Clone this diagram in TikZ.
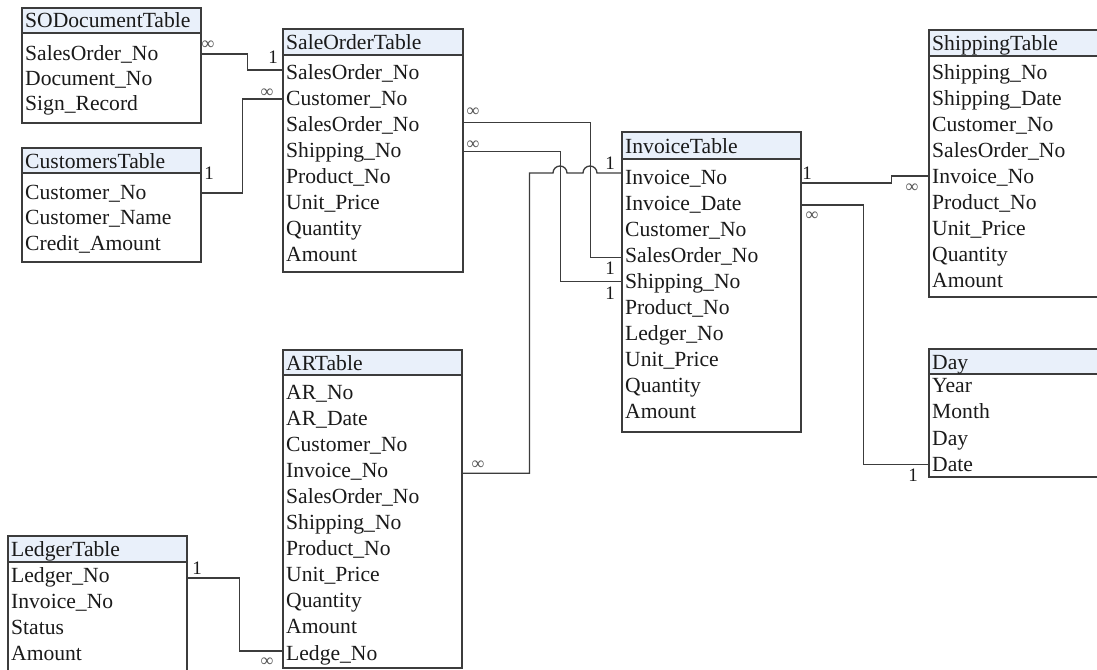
\documentclass[tikz,border=0pt]{standalone}
\usepackage{fontspec}
\setmainfont{Liberation Serif}
\definecolor{hdrblue}{HTML}{E9F0FA}
\definecolor{linegray}{HTML}{3C3C3C}
\definecolor{txt}{HTML}{1A1A1A}
\definecolor{infgray}{HTML}{555555}
\tikzset{
  tabline/.style={draw=linegray, line width=1.4pt},
  hdrfill/.style={fill=hdrblue},
  conn/.style={draw=linegray, line width=1.3pt},
  fieldtext/.style={anchor=west, inner xsep=3pt, inner ysep=0pt, text height=16pt, text depth=2pt,
    font=\fontsize{21.6}{24}\selectfont, text=txt, align=left},
  onelabel/.style={font=\fontsize{19}{20}\selectfont, text=txt, inner sep=0pt},
  manylabel/.style={font=\fontsize{18}{20}\selectfont, text=infgray, inner sep=0pt},
}
% #1 id, #2 title, #3 left, #4 right, #5 top, #6 header bottom, #7 bottom, #8 first row centre, #9 fields
\newcommand{\dbtab}[9]{%
  \pgfmathsetmacro{\tw}{#4-#3-6}%
  \fill[hdrfill] (#3,#5) rectangle (#4,#6);
  \draw[tabline] (#3,#5) rectangle (#4,#7);
  \draw[tabline] (#3,#6) -- (#4,#6);
  \node[fieldtext, text width=\tw pt] (#1) at (#3,{(#5+#6)/2+0.5}) {#2};
  \foreach \f [count=\i] in {#9} {
    \node[fieldtext, text width=\tw pt] (#1-\i) at (#3,{#8+(\i-1)*\rs}) {\f};
  }
}
\begin{document}
\begin{tikzpicture}[x=1pt,y=-1pt]
\useasboundingbox (0,0) rectangle (1097,669);
\clip (0,0) rectangle (1097,669);
\fill[white] (0,0) rectangle (1097,669);

\def\rs{25}
\dbtab{sd}{SODocumentTable}{22}{201}{8}{33}{123}{53}{SalesOrder\_No,Document\_No,Sign\_Record}
\def\rs{25.5}
\dbtab{cu}{CustomersTable}{22}{201}{148}{173}{262}{192}{Customer\_No,Customer\_Name,Credit\_Amount}
\def\rs{26.1}
\dbtab{so}{SaleOrderTable}{283}{463}{29}{55}{272}{72}{SalesOrder\_No,Customer\_No,SalesOrder\_No,Shipping\_No,Product\_No,Unit\_Price,Quantity,Amount}
\def\rs{26.1}
\dbtab{iv}{InvoiceTable}{622}{801}{132}{159}{432}{177}{Invoice\_No,Invoice\_Date,Customer\_No,SalesOrder\_No,Shipping\_No,Product\_No,Ledger\_No,Unit\_Price,Quantity,Amount}
\def\rs{26}
\dbtab{sh}{ShippingTable}{929}{1112}{30}{56}{297}{72}{Shipping\_No,Shipping\_Date,Customer\_No,SalesOrder\_No,Invoice\_No,Product\_No,Unit\_Price,Quantity,Amount}
\def\rs{26.6}
\dbtab{dy}{Day}{929}{1112}{349}{374}{477}{385}{Year,Month,Day,Date}
\def\rs{26.1}
\dbtab{ar}{ARTable}{283}{462}{350}{375}{668}{392}{AR\_No,AR\_Date,Customer\_No,Invoice\_No,SalesOrder\_No,Shipping\_No,Product\_No,Unit\_Price,Quantity,Amount,Ledge\_No}
\def\rs{26}
\dbtab{lg}{LedgerTable}{8}{187}{536}{562}{690}{575}{Ledger\_No,Invoice\_No,Status,Amount}

% connectors
\draw[conn] ([yshift=-1pt]sd-1.east) -- ++(46,0) |- ([yshift=2pt]so-1.west);
\draw[conn] ([yshift=-1pt]cu-1.east) -- ++(41,0) |- ([yshift=-1pt]so-2.west);
\draw[conn] ([yshift=2pt]so-3.east) -- ++(127,0) |- ([yshift=-2pt]iv-4.west);
\draw[conn] ([yshift=-1pt]so-4.east) -- ++(97,0) |- (iv-5.west);
\coordinate (hp) at ([yshift=4pt]iv-1.west);
\draw[conn] ([yshift=-3pt]ar-4.east) -- ++(67,0) |- ([xshift=-69pt]hp)
  arc[start angle=180, end angle=0, radius=7pt] -- ([xshift=-39pt]hp)
  arc[start angle=180, end angle=0, radius=7pt] -- (hp);
\draw[conn] ([yshift=-6pt]iv-1.east) -- ++(90,0) |- (sh-5.west);
\draw[conn] ([yshift=-2pt]iv-2.east) -- ++(62,0) |- (dy-4.west);
\draw[conn] ([yshift=-3pt]lg-1.east) -- ++(52,0) |- ([yshift=2pt]ar-11.west);

% cardinality labels
\node[manylabel] (m1) at (208,45) {∞};
\node[onelabel]  (o1) at (273,57) {1};
\node[onelabel]  (o2) at (209,173) {1};
\node[manylabel] (m2) at (267,93) {∞};
\node[manylabel] (m3) at (473,112) {∞};
\node[manylabel] (m4) at (473,145) {∞};
\node[onelabel]  (o3) at (610,268) {1};
\node[onelabel]  (o4) at (610,293) {1};
\node[manylabel] (m5) at (478,465) {∞};
\node[onelabel]  (o5) at (610,163) {1};
\node[onelabel]  (o6) at (807,173) {1};
\node[manylabel] (m6) at (912,188) {∞};
\node[manylabel] (m7) at (812,216) {∞};
\node[onelabel]  (o7) at (913,475) {1};
\node[onelabel]  (o8) at (197,568) {1};
\node[manylabel] (m8) at (267,662) {∞};
\end{tikzpicture}
\end{document}
